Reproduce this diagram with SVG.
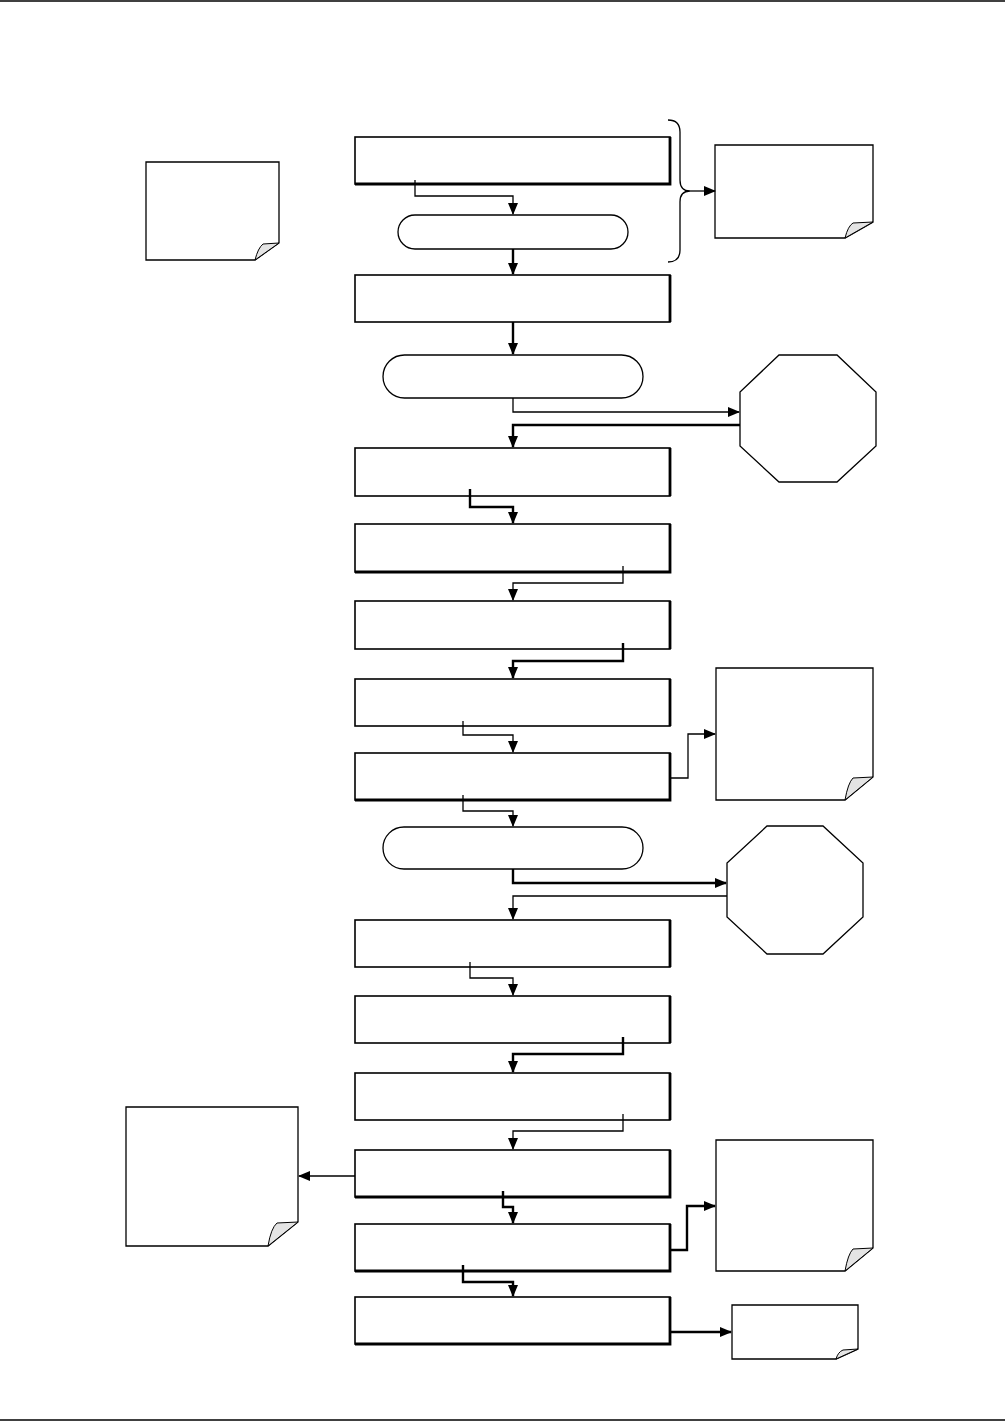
<svg xmlns="http://www.w3.org/2000/svg" width="1005" height="1422" viewBox="0 0 1005 1422">
<defs>
<marker id="ah" markerUnits="userSpaceOnUse" markerWidth="12" markerHeight="10" refX="11" refY="5" orient="auto">
<path d="M0,0 L12,5 L0,10 Z" fill="#000"/>
</marker>
</defs>
<style>
.box{fill:#fff;stroke:#000;stroke-width:1.6}
.edge{fill:none;stroke:#000;stroke-width:2.8}
.pill{fill:#fff;stroke:#000;stroke-width:1.3}
.oct{fill:#fff;stroke:#000;stroke-width:1.3}
.note{fill:#fff;stroke:#000;stroke-width:1.3}
.fold{fill:#e4e4e4;stroke:#000;stroke-width:1}
.thin{fill:none;stroke:#000;stroke-width:1.3}
.thick{fill:none;stroke:#000;stroke-width:2.4}
.rule{stroke:#000;stroke-width:1.6}
</style>
<rect width="1005" height="1422" fill="#fff"/>
<line class="rule" x1="0" y1="1" x2="1005" y2="1"/>
<line class="rule" x1="0" y1="1420" x2="1005" y2="1420"/>

<g id="box1"><rect class="box" x="355" y="137" width="315" height="47"/><polyline class="edge" points="670,137 670,184 355,184"/></g>
<g id="pill1"><rect class="pill" x="398" y="215" width="230" height="34" rx="17"/></g>
<g id="box2"><rect class="box" x="355" y="275" width="315" height="47"/><polyline class="edge" points="670,275 670,322"/></g>
<g id="pill2"><rect class="pill" x="383" y="355" width="260" height="43" rx="21.5"/></g>
<g id="oct1"><polygon class="oct" points="779,355 837,355 876,392 876,446 837,482 779,482 740,446 740,392"/></g>
<g id="box3"><rect class="box" x="355" y="448" width="315" height="48"/><polyline class="edge" points="670,448 670,496"/></g>
<g id="box4"><rect class="box" x="355" y="524" width="315" height="48"/><polyline class="edge" points="670,524 670,572 355,572"/></g>
<g id="box5"><rect class="box" x="355" y="601" width="315" height="48"/><polyline class="edge" points="670,601 670,649"/></g>
<g id="box6"><rect class="box" x="355" y="679" width="315" height="47"/><polyline class="edge" points="670,679 670,726"/></g>
<g id="box7"><rect class="box" x="355" y="753" width="315" height="47"/><polyline class="edge" points="670,753 670,800 355,800"/></g>
<g id="pill3"><rect class="pill" x="383" y="827" width="260" height="42" rx="21"/></g>
<g id="oct2"><polygon class="oct" points="767,826 823,826 863,863 863,917 823,954 767,954 727,917 727,863"/></g>
<g id="box8"><rect class="box" x="355" y="920" width="315" height="47"/><polyline class="edge" points="670,920 670,967"/></g>
<g id="box9"><rect class="box" x="355" y="996" width="315" height="47"/><polyline class="edge" points="670,996 670,1043"/></g>
<g id="box10"><rect class="box" x="355" y="1073" width="315" height="47"/><polyline class="edge" points="670,1073 670,1120"/></g>
<g id="box11"><rect class="box" x="355" y="1150" width="315" height="47"/><polyline class="edge" points="670,1150 670,1197 355,1197"/></g>
<g id="box12"><rect class="box" x="355" y="1224" width="315" height="47"/><polyline class="edge" points="670,1224 670,1271 355,1271"/></g>
<g id="box13"><rect class="box" x="355" y="1297" width="315" height="47"/><polyline class="edge" points="670,1297 670,1344 355,1344"/></g>

<g id="note1"><path class="note" d="M715,145 H873 V222 L845,238 H715 Z"/><path class="fold" d="M845,238 Q848,226 853,223 L873,222 Z"/></g>
<g id="note2"><path class="note" d="M146,162 H279 V243 L255,260 H146 Z"/><path class="fold" d="M255,260 Q258,248 263,244 L279,243 Z"/></g>
<g id="note3"><path class="note" d="M716,668 H873 V777 L845,800 H716 Z"/><path class="fold" d="M845,800 Q848,783 853,778 L873,777 Z"/></g>
<g id="note4"><path class="note" d="M126,1107 H298 V1222 L268,1246 H126 Z"/><path class="fold" d="M268,1246 Q271,1228 277,1223 L298,1222 Z"/></g>
<g id="note5"><path class="note" d="M716,1140 H873 V1248 L845,1271 H716 Z"/><path class="fold" d="M845,1271 Q848,1254 853,1249 L873,1248 Z"/></g>
<g id="note6"><path class="note" d="M732,1305 H858 V1349 L836,1359 H732 Z"/><path class="fold" d="M836,1359 Q838,1352 843,1350 L858,1349 Z"/></g>

<g id="connectors">
<polyline class="thin" points="415,180 415,196 513,196 513,214" marker-end="url(#ah)"/>
<polyline class="thick" points="513,249 513,274" marker-end="url(#ah)"/>
<polyline class="thick" points="513,322 513,354" marker-end="url(#ah)"/>
<polyline class="thin" points="513,398 513,412 739,412" marker-end="url(#ah)"/>
<polyline class="thick" points="740,425 513,425 513,447" marker-end="url(#ah)"/>
<polyline class="thick" points="470,489 470,507 513,507 513,523" marker-end="url(#ah)"/>
<polyline class="thin" points="623,566 623,583 513,583 513,600" marker-end="url(#ah)"/>
<polyline class="thick" points="623,643 623,661 513,661 513,678" marker-end="url(#ah)"/>
<polyline class="thin" points="463,721 463,735 513,735 513,752" marker-end="url(#ah)"/>
<polyline class="thin" points="671,778 688,778 688,734 715,734" marker-end="url(#ah)"/>
<polyline class="thin" points="463,795 463,811 513,811 513,826" marker-end="url(#ah)"/>
<polyline class="thick" points="513,869 513,883 726,883" marker-end="url(#ah)"/>
<polyline class="thin" points="727,896 513,896 513,919" marker-end="url(#ah)"/>
<polyline class="thin" points="470,962 470,978 513,978 513,995" marker-end="url(#ah)"/>
<polyline class="thick" points="623,1037 623,1054 513,1054 513,1072" marker-end="url(#ah)"/>
<polyline class="thin" points="623,1114 623,1131 513,1131 513,1149" marker-end="url(#ah)"/>
<polyline class="thin" points="355,1176 299,1176" marker-end="url(#ah)"/>
<polyline class="thick" points="503,1191 503,1207 513,1207 513,1223" marker-end="url(#ah)"/>
<polyline class="thick" points="671,1250 687,1250 687,1206 715,1206" marker-end="url(#ah)"/>
<polyline class="thick" points="463,1265 463,1282 513,1282 513,1296" marker-end="url(#ah)"/>
<polyline class="thick" points="671,1332 731,1332" marker-end="url(#ah)"/>
<path class="thin" d="M668,120 Q680,120 680,132 L680,180 Q680,191 690,191 Q680,191 680,202 L680,250 Q680,262 668,262"/>
<polyline class="thin" points="690,191 715,191" marker-end="url(#ah)"/>
</g>
</svg>
